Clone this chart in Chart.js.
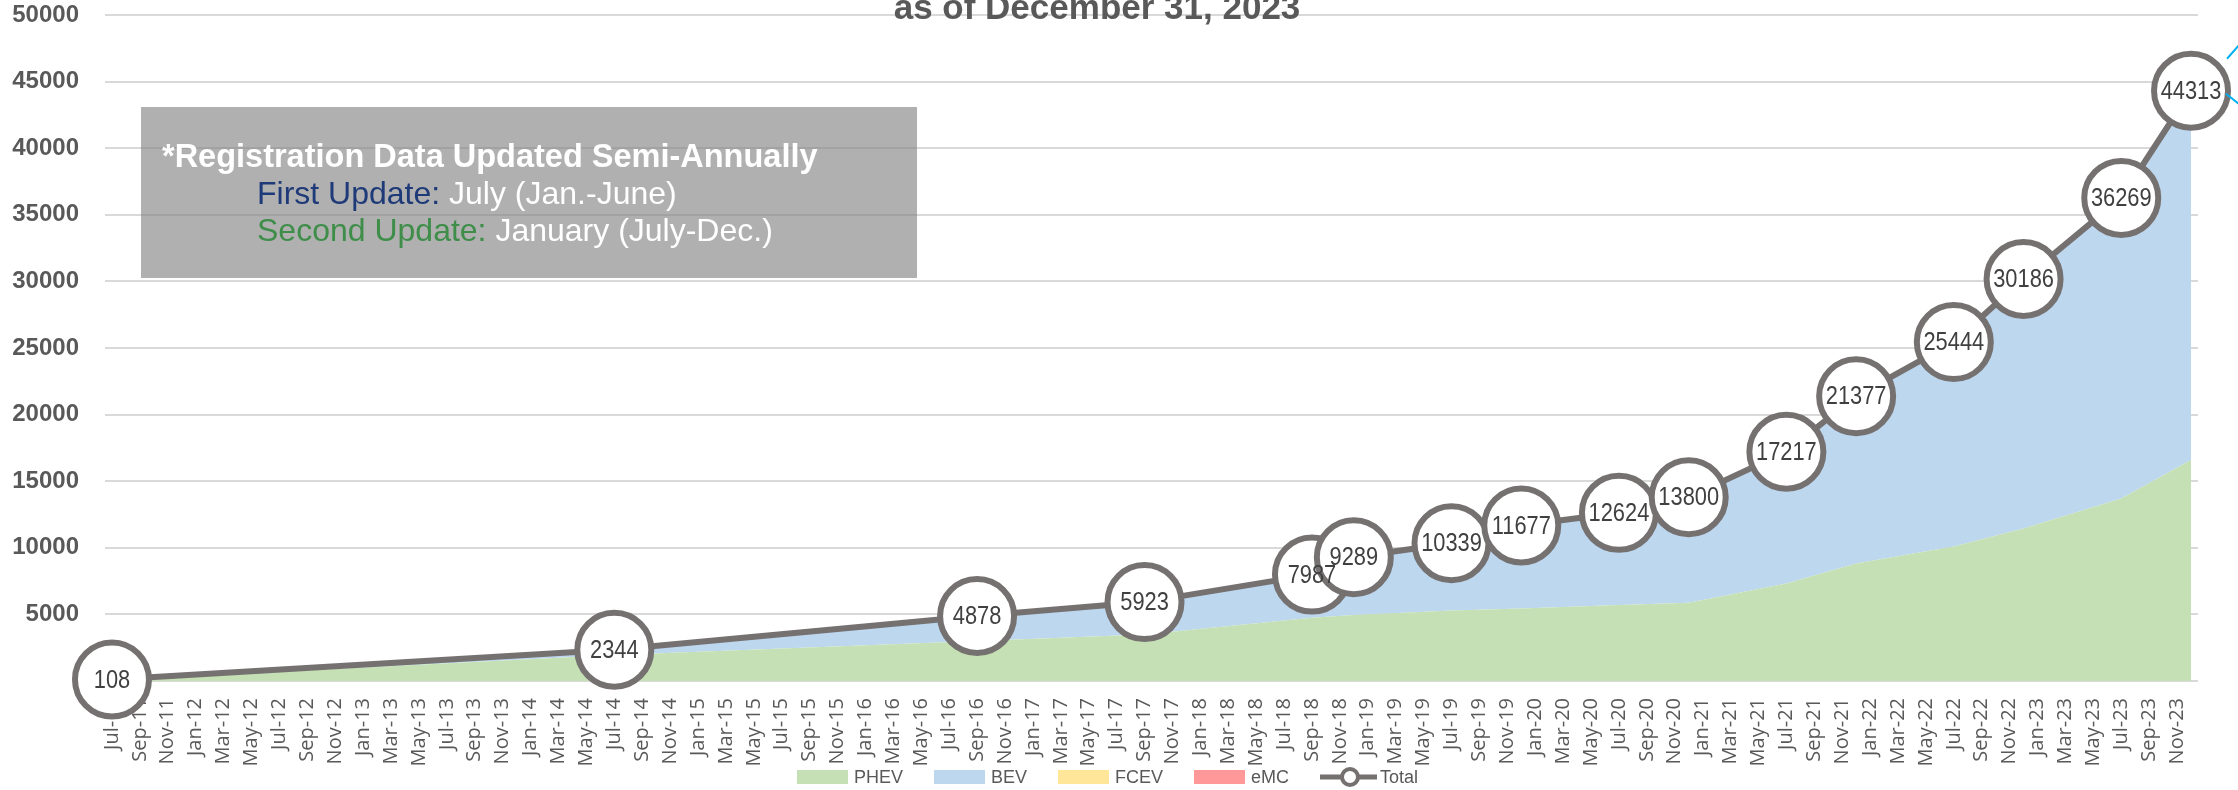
<!DOCTYPE html>
<html lang="en">
<head>
  <meta charset="UTF-8" />
  <title>EV registrations</title>
  <script src="https://cdn.jsdelivr.net/npm/chart.js"></script>
  <style>
    body { margin: 0; overflow: hidden; background: #fff; }
    #wrap { position: relative; width: 2238px; height: 790px; }
    #title {
      position: absolute; left: 0; top: -11px; width: 2194px; text-align: center;
      font: bold 35px/35px "Liberation Sans", Arial, sans-serif; color: #595959;
    }
    #note {
      position: absolute; left: 141px; top: 107px; width: 776px; height: 171px;
      background: rgba(128, 128, 128, 0.62); color: #fff;
      font-family: "Liberation Sans", Arial, sans-serif; font-size: 32px; line-height: 37px;
    }
    #note .l1 { position: absolute; left: 21px; top: 31px; font-weight: bold; font-size: 32.5px; white-space: nowrap; }
    #note .l2 { position: absolute; left: 116px; top: 68px; white-space: nowrap; }
    #note .l3 { position: absolute; left: 116px; top: 105px; white-space: nowrap; }
    .navy { color: #1f3a78; }
    .green { color: #3e8e4a; }
    #legend {
      position: absolute; left: 797px; top: 766px; height: 22px;
      display: flex; align-items: center;
      font: 18px "Liberation Sans", Arial, sans-serif; color: #595959;
    }
    #legend .item { display: flex; align-items: center; margin-right: 31px; }
    #legend .box { width: 51px; height: 14px; margin-right: 6px; }
    #legend canvas { margin-right: 3px; }
  </style>
</head>
<body>
  <div id="wrap">
    <canvas id="chart" width="2238" height="790"></canvas>
    <div id="title">as of December 31, 2023</div>
    <div id="note">
      <div class="l1">*Registration Data Updated Semi-Annually</div>
      <div class="l2"><span class="navy">First Update:</span> July (Jan.-June)</div>
      <div class="l3"><span class="green">Second Update:</span> January (July-Dec.)</div>
    </div>
    <div id="legend"></div>
  </div>

  <script>
    // registration dates (month-year) and counts
    const dates = ["Jul-11", "Jul-14", "Sep-16", "Sep-17", "Sep-18", "Dec-18", "Jul-19", "Dec-19",
                   "Jul-20", "Dec-20", "Jul-21", "Dec-21", "Jul-22", "Dec-22", "Jul-23", "Dec-23"];
    const totalValues = [108, 2344, 4878, 5923, 7987, 9289, 10339, 11677,
                         12624, 13800, 17217, 21377, 25444, 30186, 36269, 44313];
    const phevValues = [80, 1950, 3000, 3500, 4750, 4950, 5300, 5450,
                        5700, 5880, 7320, 8820, 10100, 11450, 13700, 16600];
    const bevValues = [28, 394, 1871, 2411, 3221, 4319, 5015, 6199,
                       6891, 7882, 9853, 12506, 15286, 18671, 22497, 27633];
    const fcevValues = [0, 0, 5, 8, 10, 12, 14, 16, 18, 20, 22, 25, 28, 30, 32, 35];
    const emcValues = [0, 0, 2, 4, 6, 8, 10, 12, 15, 18, 22, 26, 30, 35, 40, 45];

    const tickLabels = [
      "Jul-11", "Sep-11", "Nov-11",
      "Jan-12", "Mar-12", "May-12", "Jul-12", "Sep-12", "Nov-12",
      "Jan-13", "Mar-13", "May-13", "Jul-13", "Sep-13", "Nov-13",
      "Jan-14", "Mar-14", "May-14", "Jul-14", "Sep-14", "Nov-14",
      "Jan-15", "Mar-15", "May-15", "Jul-15", "Sep-15", "Nov-15",
      "Jan-16", "Mar-16", "May-16", "Jul-16", "Sep-16", "Nov-16",
      "Jan-17", "Mar-17", "May-17", "Jul-17", "Sep-17", "Nov-17",
      "Jan-18", "Mar-18", "May-18", "Jul-18", "Sep-18", "Nov-18",
      "Jan-19", "Mar-19", "May-19", "Jul-19", "Sep-19", "Nov-19",
      "Jan-20", "Mar-20", "May-20", "Jul-20", "Sep-20", "Nov-20",
      "Jan-21", "Mar-21", "May-21", "Jul-21", "Sep-21", "Nov-21",
      "Jan-22", "Mar-22", "May-22", "Jul-22", "Sep-22", "Nov-22",
      "Jan-23", "Mar-23", "May-23", "Jul-23", "Sep-23", "Nov-23"
    ];

    const MONTHS = ["Jan", "Feb", "Mar", "Apr", "May", "Jun", "Jul", "Aug", "Sep", "Oct", "Nov", "Dec"];
    // months counted from Jul-11
    function monthIndex(s) {
      const [m, y] = s.split("-");
      return (Number(y) - 11) * 12 + MONTHS.indexOf(m) - 6;
    }
    const xs = dates.map(monthIndex);
    const pts = vals => vals.map((v, i) => ({ x: xs[i], y: v }));

    const GRAY = "#767171";
    const TEXT = "#595959";

    function lineSwatch() {
      const c = document.createElement("canvas");
      c.width = 57; c.height = 24;
      const g = c.getContext("2d");
      g.strokeStyle = GRAY;
      g.lineWidth = 5;
      g.beginPath(); g.moveTo(0, 12); g.lineTo(57, 12); g.stroke();
      g.fillStyle = "#fff"; g.lineWidth = 4;
      g.beginPath(); g.arc(30, 12, 8, 0, Math.PI * 2); g.fill(); g.stroke();
      return c;
    }

    function area(label, values, color, fill) {
      return {
        label, data: pts(values), backgroundColor: color, borderWidth: 0,
        pointRadius: 0, fill, stack: "ev", order: 1, tension: 0
      };
    }

    // numbers inside the Total circles, plus the cut-off leader lines at top right
    const pointLabels = {
      id: "pointLabels",
      afterDatasetsDraw(chart) {
        const ctx = chart.ctx;
        const meta = chart.getDatasetMeta(4);
        ctx.save();
        ctx.font = '26px "Liberation Sans", Arial, sans-serif';
        ctx.fillStyle = "#404040";
        ctx.textAlign = "center";
        ctx.textBaseline = "middle";
        meta.data.forEach((p, i) => {
          ctx.save();
          ctx.translate(p.x, p.y + 1);
          ctx.scale(0.84, 1);
          ctx.fillText(String(totalValues[i]), 0, 0);
          ctx.restore();
        });
        const last = meta.data[meta.data.length - 1];
        ctx.strokeStyle = "#00b0f0";
        ctx.lineWidth = 2;
        ctx.beginPath();
        ctx.moveTo(last.x + 36, last.y - 32); ctx.lineTo(last.x + 50, last.y - 48);
        ctx.moveTo(last.x + 35, last.y + 3); ctx.lineTo(last.x + 50, last.y + 15);
        ctx.stroke();
        ctx.restore();
      }
    };

    const chart = new Chart(document.getElementById("chart"), {
      type: "line",
      data: {
        datasets: [
          area("PHEV", phevValues, "#c5e0b4", "origin"),
          area("BEV", bevValues, "#bdd7ee", "-1"),
          area("FCEV", fcevValues, "#ffe699", "-1"),
          area("eMC", emcValues, "#ff9999", "-1"),
          {
            label: "Total", data: pts(totalValues), stack: "total", order: 0,
            borderColor: GRAY, borderWidth: 6, tension: 0, fill: false,
            pointRadius: 37, pointBorderWidth: 6, pointBackgroundColor: "#fff",
            pointBorderColor: GRAY, clip: false
          }
        ]
      },
      options: {
        responsive: false,
        animation: false,
        events: [],
        layout: { autoPadding: false, padding: { top: 15, right: 40, left: 0, bottom: 0 } },
        scales: {
          x: {
            type: "linear",
            min: monthIndex(tickLabels[0]) - 0.5,
            max: monthIndex(dates[dates.length - 1]) + 0.5,
            grid: { display: false, drawTicks: false },
            border: { display: false },
            afterBuildTicks: s => { s.ticks = tickLabels.map(t => ({ value: monthIndex(t) })); },
            afterFit: s => { s.height = 109; s.paddingLeft = 0; s.paddingRight = 0; },
            ticks: {
              autoSkip: false, minRotation: 90, maxRotation: 90, padding: 17,
              color: TEXT, font: { family: '"Open Sans", sans-serif', size: 20 },
              callback: (v, i) => tickLabels[i]
            }
          },
          y: {
            stacked: true,
            min: 0, max: 50000,
            grid: { color: "#d9d9d9", lineWidth: 2, drawTicks: false },
            border: { display: false },
            afterFit: s => { s.width = 105; s.paddingTop = 0; s.paddingBottom = 0; },
            ticks: {
              stepSize: 5000, padding: 26, color: TEXT,
              font: { family: '"Liberation Sans", Arial, sans-serif', size: 24, weight: "bold" },
              callback: v => (v === 0 ? "" : String(v))
            }
          }
        },
        plugins: {
          tooltip: { enabled: false },
          legend: { display: false }
        }
      },
      plugins: [pointLabels]
    });

    // legend row under the axis, built from the datasets
    const legendEl = document.getElementById("legend");
    chart.data.datasets.forEach((ds, i) => {
      const item = document.createElement("div");
      item.className = "item";
      if (i < 4) {
        const box = document.createElement("span");
        box.className = "box";
        box.style.background = ds.backgroundColor;
        item.appendChild(box);
      } else {
        item.appendChild(lineSwatch());
      }
      item.appendChild(document.createTextNode(ds.label));
      legendEl.appendChild(item);
    });
  </script>
</body>
</html>
